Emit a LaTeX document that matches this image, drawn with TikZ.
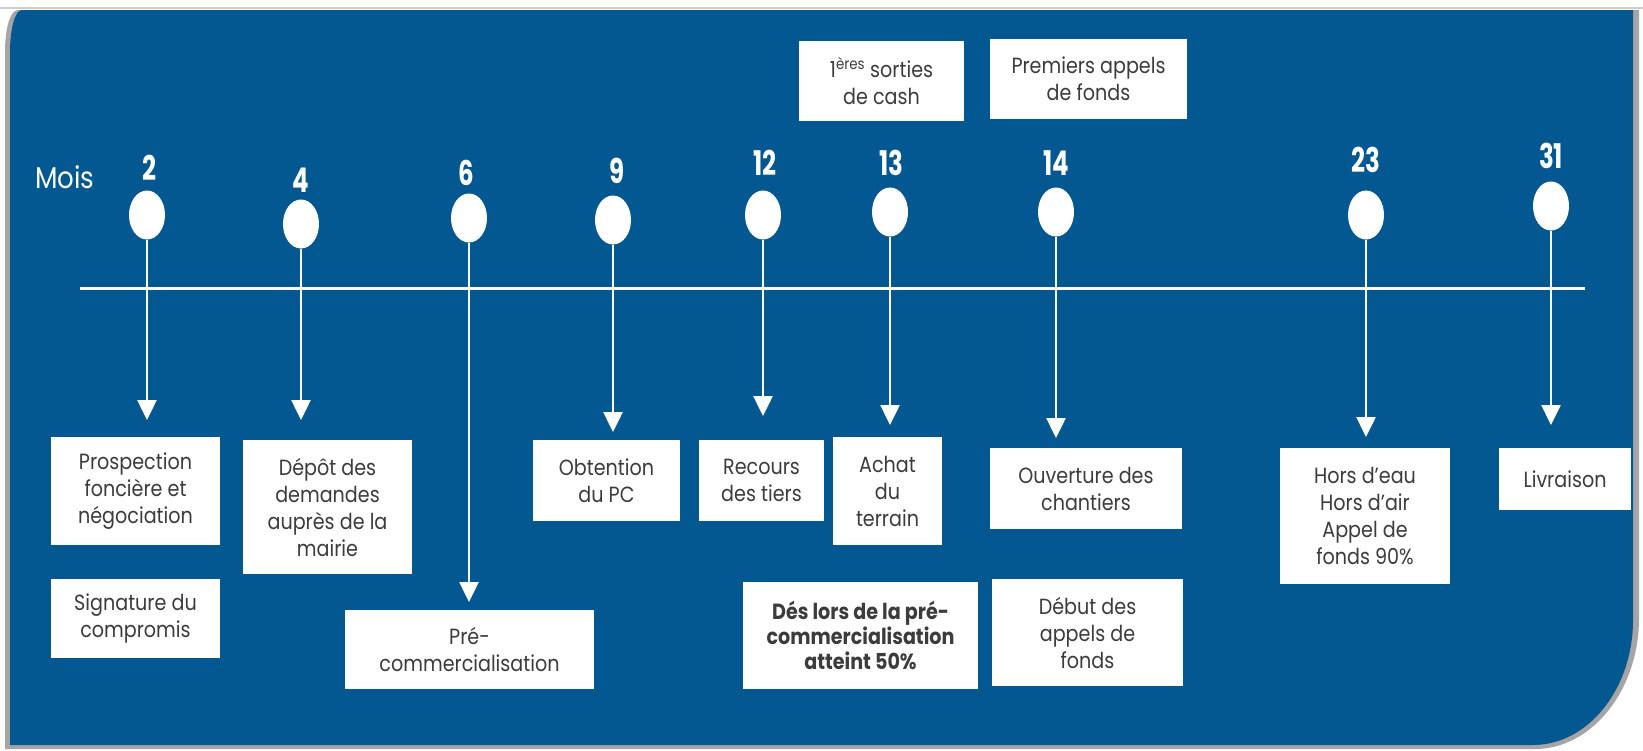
\documentclass[tikz,border=0pt]{standalone}
\usepackage{fontspec}
\setmainfont{Poppins}[FakeStretch=0.87]
\newfontfamily\numfont{Poppins}[FakeStretch=0.72]
\usetikzlibrary{arrows.meta,shapes.geometric}
\definecolor{panel}{RGB}{4,88,145}
\definecolor{shadowgray}{RGB}{165,165,165}
\definecolor{txt}{RGB}{60,60,60}
\definecolor{topline}{RGB}{205,205,205}
\begin{document}
\begin{tikzpicture}[x=1pt,y=-1pt,
  box/.style={fill=white, inner sep=0pt, align=center, text=txt, font=\fontsize{22}{27}\selectfont},
  dot/.style={ellipse, fill=white, inner sep=0pt, minimum width=36pt, minimum height=49pt},
  num/.style={text=white, inner sep=0pt, font=\numfont\bfseries\fontsize{34}{34}\selectfont},
  arr/.style={draw=white, line width=2.5pt, -{Triangle[width=19pt,length=20pt]}},
  tline/.style={draw=white, line width=3pt}]
\useasboundingbox (0,0) rectangle (1643,750);
\fill[white] (0,0) rectangle (1643,750);
\draw[topline, line width=1.5pt] (0,8) -- (1643,8);
% panel shadow
\fill[shadowgray] (18,10) -- (1639,10) -- (1639,618)
  .. controls (1639,690) and (1592,749) .. (1535,749)
  -- (5,749) -- (5,52) .. controls (5,29) and (10,10) .. (18,10) -- cycle;
% panel
\fill[panel] (22,10) -- (1633,10) -- (1633,620)
  .. controls (1633,689) and (1588,745) .. (1533,745)
  -- (10,745) -- (10,52) .. controls (10,29) and (15,10) .. (22,10) -- cycle;
% label
\node[text=white, inner sep=0pt, font=\fontsize{30}{30}\selectfont] (mois) at (65,177) {Mois};
% timeline
\coordinate (tlL) at (80,288);
\coordinate (tlR) at (1585,288);
\draw[tline] (tlL) -- (tlR);
% milestones
\foreach \n/\cx/\cy/\nx/\ny/\ty in {2/147/215/149/168/420, 4/301/224/301/180/420, 6/469/218/466/173/602,
  9/613/220/617/171/432, 12/763/215/765/163/416, 13/890/212/891/163/425,
  14/1056/212/1056/163/438, 23/1366/215/1366/160/437, 31/1551/206/1551/156/425}{
  \node[dot] (c\n) at (\cx,\cy) {};
  \node[num] (n\n) at (\nx,\ny) {\n};
  \coordinate (t\n) at (\cx,\ty);
  \draw[arr] (c\n) -- (t\n);
}
% boxes
\node[box, minimum width=169pt, minimum height=108pt] (b2) at (135.5,491) {Prospection\\foncière et\\négociation};
\node[box, minimum width=169pt, minimum height=79pt] (sig) at (135.5,618.5) {Signature du\\compromis};
\node[box, minimum width=169pt, minimum height=134pt] (b4) at (327.5,507) {Dépôt des\\demandes\\auprès de la\\mairie};
\node[box, minimum width=249pt, minimum height=79pt] (b6) at (469.5,649.5) {Pré-\\commercialisation};
\node[box, minimum width=147pt, minimum height=81pt] (b9) at (606.5,480.5) {Obtention\\du PC};
\node[box, minimum width=125pt, minimum height=81pt] (b12) at (761.5,480.5) {Recours\\des tiers};
\node[box, minimum width=109pt, minimum height=108pt] (b13) at (887.5,491) {Achat\\du\\terrain};
\node[box, minimum width=235pt, minimum height=107pt, font=\bfseries\fontsize{22}{25}\selectfont] (des) at (860.5,635.5) {Dés lors de la pré-\\commercialisation\\atteint 50\%};
\node[box, minimum width=192pt, minimum height=81pt] (b14) at (1086,488.5) {Ouverture des\\chantiers};
\node[box, minimum width=191pt, minimum height=107pt] (deb) at (1087.5,632.5) {Début des\\appels de\\fonds};
\node[box, minimum width=170pt, minimum height=136pt] (b23) at (1365,516) {Hors d’eau\\Hors d’air\\Appel de\\fonds 90\%};
\node[box, minimum width=132pt, minimum height=62pt] (b31) at (1565,479) {Livraison};
\node[box, minimum width=165pt, minimum height=80pt] (cash) at (881.5,81) {1\textsuperscript{ères} sorties\\de cash};
\node[box, minimum width=197pt, minimum height=80pt] (appels) at (1088.5,79) {Premiers appels\\de fonds};
\end{tikzpicture}
\end{document}
